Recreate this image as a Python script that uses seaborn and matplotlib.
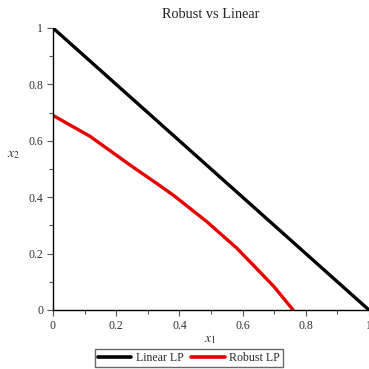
import numpy as np
import pandas as pd
import matplotlib
matplotlib.use("Agg")
import matplotlib.pyplot as plt
from matplotlib.ticker import MultipleLocator, FuncFormatter
import seaborn as sns

# Feasible-region boundaries: x1 + x2 = 1 for the linear LP and the robust counterpart
linear_x1 = [0.0, 1.0]
linear_x2 = [1.0, 0.0]
robust_x1 = [0.0, 0.117, 0.244, 0.275, 0.333, 0.381, 0.487, 0.582, 0.627, 0.70, 0.76]
robust_x2 = [0.69, 0.616, 0.514, 0.490, 0.445, 0.407, 0.313, 0.219, 0.167, 0.082, 0.0]
series_names = ["Linear LP", "Robust LP"]
series_colors = ["black", "#e60000"]

df = pd.concat([
    pd.DataFrame({"x1": linear_x1, "x2": linear_x2, "model": series_names[0]}),
    pd.DataFrame({"x1": robust_x1, "x2": robust_x2, "model": series_names[1]}),
])

sns.set_theme(style="ticks")
plt.rcParams["font.family"] = ["Liberation Serif", "DejaVu Serif"]
plt.rcParams["mathtext.fontset"] = "stix"

fig = plt.figure(figsize=(3.69, 3.69), dpi=100)
ax = fig.add_axes([53 / 369, 1 - 310 / 369, 316 / 369, 282 / 369])

sns.lineplot(data=df, x="x1", y="x2", hue="model", palette=series_colors,
             sort=False, estimator=None, linewidth=2.4, ax=ax, legend=False)

ax.set_xlim(0, 1)
ax.set_ylim(0, 1)
for side in ("top", "right"):
    ax.spines[side].set_visible(False)
for side in ("left", "bottom"):
    ax.spines[side].set_linewidth(1.0)
    ax.spines[side].set_color("black")


def tick_text(v, _):
    if np.isclose(v, 0):
        return "0"
    if np.isclose(v, 1):
        return "1"
    return f"{v:.1f}"


fmt = FuncFormatter(tick_text)
ax.xaxis.set_major_locator(MultipleLocator(0.2))
ax.xaxis.set_minor_locator(MultipleLocator(0.1))
ax.yaxis.set_major_locator(MultipleLocator(0.2))
ax.yaxis.set_minor_locator(MultipleLocator(0.1))
ax.xaxis.set_major_formatter(fmt)
ax.yaxis.set_major_formatter(fmt)
ax.tick_params(which="major", length=4, width=0.8, labelsize=8.5, labelcolor="#333333", pad=3)
ax.tick_params(which="minor", length=3, width=0.8)
ax.tick_params(axis="both", which="both", color="#555555")

ax.set_xlabel("$x_1$", fontsize=10, color="#333333")
ax.xaxis.set_label_coords(0.497, -0.082)
ax.set_ylabel("$x_2$", fontsize=10, rotation=0, color="#333333")
ax.yaxis.set_label_coords(-0.125, 0.53)
ax.set_title("Robust vs Linear", fontsize=10.3, pad=7, color="#222222")

handles = [plt.Line2D([0], [0], color=c, lw=2.6) for c in series_colors]
leg = fig.legend(handles, series_names, loc="center", bbox_to_anchor=(189 / 369, 1 - 358 / 369),
                 ncol=2, frameon=True, fancybox=False, fontsize=8.6, handlelength=2.8,
                 handletextpad=0.4, columnspacing=0.6, borderpad=0.25, borderaxespad=0)
leg.get_frame().set_edgecolor("#444444")
leg.get_frame().set_linewidth(1.0)

fig.savefig("out.png", dpi=100)
